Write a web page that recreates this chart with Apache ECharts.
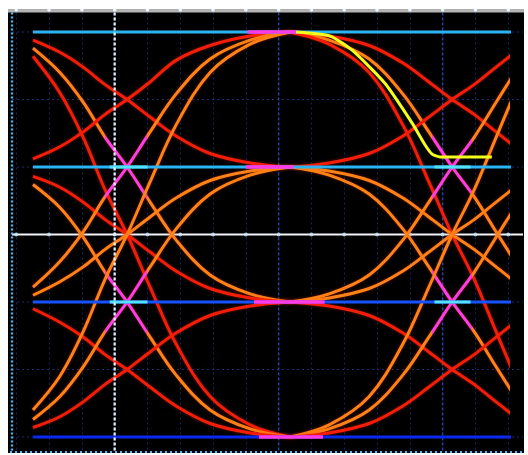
<!DOCTYPE html>
<html>
<head>
<meta charset="utf-8">
<title>PAM4 eye diagram</title>
<script src="https://cdn.jsdelivr.net/npm/echarts@6/dist/echarts.min.js"></script>
<style>
  html, body { margin: 0; padding: 0; background: #ffffff; }
  #eye { width: 528px; height: 455px; }
</style>
</head>
<body>
<div id="eye"></div>
<script>
// Horizontal unit: one screen division. Vertical unit: half of the PAM4 level spacing.
const symbolLevels = [3, 1, -1, -3];
const gridLevels = [3, 2, 1, -1, -2, -3];
const majorDivisions = [3, 8, 13];
const divisionMarks = [0, 1, 2, 3, 4, 5, 6, 7, 8, 9, 10, 11, 12, 13, 14, 15];

// Sample instants over the first half: previous symbol -> centre of the current symbol
const tFirst = [0.51, 1.33, 2.04, 2.71, 3.38, 4.08, 4.87, 5.91, 7.13, 8.35];
// Sample instants over the second half: centre of the current symbol -> next symbol
const tSecond = [8.35, 9.54, 10.76, 11.79, 12.58, 13.29, 13.96, 14.63, 15.15];

// First-half transitions (from level -> to level)
const inP3P1 = [2.88, 2.70, 2.48, 2.22, 2.00, 1.74, 1.46, 1.20, 1.06, 1.00];
const inP3M1 = [2.76, 2.40, 1.96, 1.44, 1.00, 0.48, -0.08, -0.60, -0.88, -1.00];
const inP3M3 = [2.64, 2.10, 1.44, 0.66, 0.00, -0.78, -1.62, -2.40, -2.82, -3.00];
const inP1P3 = [1.12, 1.30, 1.52, 1.78, 2.00, 2.26, 2.58, 2.80, 2.94, 3.00];
const inP1M1 = [0.86, 0.70, 0.48, 0.22, 0.00, -0.26, -0.54, -0.80, -0.94, -1.00];
const inP1M3 = [0.74, 0.40, -0.04, -0.56, -1.00, -1.52, -2.08, -2.60, -2.88, -3.00];
const inM1P1 = [-0.90, -0.70, -0.48, -0.22, 0.00, 0.26, 0.54, 0.80, 0.94, 1.00];
const inM1P3 = [-0.78, -0.40, 0.04, 0.56, 1.00, 1.52, 2.08, 2.60, 2.88, 3.00];
const inM1M3 = [-1.10, -1.30, -1.52, -1.78, -2.00, -2.26, -2.54, -2.80, -2.94, -3.00];
const inM3P3 = [-2.60, -2.10, -1.44, -0.66, 0.00, 0.78, 1.62, 2.40, 2.82, 3.00];
const inM3P1 = [-2.74, -2.40, -1.96, -1.44, -1.00, -0.48, 0.08, 0.60, 0.88, 1.00];
const inM3M1 = [-2.86, -2.70, -2.48, -2.22, -2.00, -1.74, -1.46, -1.20, -1.06, -1.00];

// Second-half transitions (from level -> to level)
const outP3P1 = [3.00, 2.94, 2.80, 2.54, 2.26, 2.00, 1.78, 1.52, 1.32];
const outP3M1 = [3.00, 2.88, 2.60, 2.08, 1.52, 1.00, 0.56, 0.04, -0.36];
const outP3M3 = [3.00, 2.82, 2.40, 1.62, 0.78, 0.00, -0.66, -1.44, -2.04];
const outP1P3 = [1.00, 1.06, 1.20, 1.46, 1.74, 2.00, 2.22, 2.48, 2.68];
const outP1M1 = [1.00, 0.94, 0.80, 0.54, 0.26, 0.00, -0.22, -0.48, -0.68];
const outP1M3 = [1.00, 0.88, 0.60, 0.08, -0.48, -1.00, -1.44, -1.96, -2.36];
const outM1P1 = [-1.00, -0.94, -0.80, -0.54, -0.26, 0.00, 0.22, 0.48, 0.68];
const outM1P3 = [-1.00, -0.88, -0.60, -0.08, 0.48, 1.00, 1.44, 1.96, 2.36];
const outM1M3 = [-1.00, -1.06, -1.20, -1.46, -1.74, -2.00, -2.22, -2.48, -2.68];
const outM3P3 = [-3.00, -2.82, -2.40, -1.62, -0.78, 0.00, 0.66, 1.44, 2.04];
const outM3P1 = [-3.00, -2.88, -2.60, -2.08, -1.52, -1.00, -0.56, -0.04, 0.36];
const outM3M1 = [-3.00, -2.94, -2.80, -2.54, -2.26, -2.00, -1.78, -1.52, -1.32];

// Latest acquisition, drawn on top
const latestT = [8.53, 9.57, 10.24, 11.24, 12.07, 12.46, 12.68, 12.92, 14.50];
const latestV = [3.00, 2.94, 2.73, 2.24, 1.65, 1.33, 1.19, 1.15, 1.15];

// Span of the steady level traces, the dense zone at each symbol centre,
// and the brighter stretches of the inner levels through the crossings
const levelSpan = [0.51, 15.15];
const denseZone = [[7.05, 8.55], [7.0, 8.45], [7.25, 9.4], [7.4, 9.35]];
const crossingZones = [[2.85, 4.0], [12.75, 13.85]];
const innerLevels = [1, -1];

const RED = '#f51c08';
const ORANGE = '#ff8216';
const MAGENTA = '#ff3ce8';
const YELLOW = '#f4ff1c';
const CYAN = '#2bb4f4';
const BRIGHT_CYAN = '#52e2ff';
const BLUE_L1 = '#1752ff';
const BLUE_L0 = '#0a2af2';

const firstHalf = [
  [inP3P1, RED, false], [inP3M1, ORANGE, true], [inP3M3, RED, false],
  [inP1P3, RED, false], [inP1M1, RED, false], [inP1M3, ORANGE, true],
  [inM1P1, ORANGE, false], [inM1P3, ORANGE, true], [inM1M3, RED, false],
  [inM3P3, ORANGE, false], [inM3P1, ORANGE, true], [inM3M1, RED, false]
];
const secondHalf = [
  [outP3P1, RED, false], [outP3M1, ORANGE, true], [outP3M3, RED, false],
  [outP1P3, RED, false], [outP1M1, ORANGE, false], [outP1M3, ORANGE, true],
  [outM1P1, ORANGE, false], [outM1P3, ORANGE, true], [outM1M3, RED, false],
  [outM3P3, ORANGE, false], [outM3P1, ORANGE, true], [outM3M1, RED, false]
];

const series = [];
const crossingTraces = [];

function addTrace(ts, vs, color, crosses) {
  const lineStyle = { width: 3, shadowBlur: 3, shadowColor: 'rgba(255,60,0,0.45)' };
  if (crosses) {
    // colour comes from the visual map (magenta through the crossing)
    crossingTraces.push(series.length);
  } else {
    lineStyle.color = color;
  }
  series.push({
    type: 'line',
    data: ts.map((t, i) => [t, vs[i]]),
    smooth: 0.35,
    symbol: 'none',
    clip: false,
    silent: true,
    z: 2,
    lineStyle: lineStyle,
    itemStyle: { color: color }
  });
}

firstHalf.forEach(([vs, c, x]) => addTrace(tFirst, vs, c, x));
secondHalf.forEach(([vs, c, x]) => addTrace(tSecond, vs, c, x));

function flatSegment(from, to, level, color, width, z) {
  series.push({
    type: 'line',
    data: [[from, level], [to, level]],
    symbol: 'none', silent: true, z: z,
    lineStyle: { width: width, color: color }, itemStyle: { color: color }
  });
}

// Steady-level traces
symbolLevels.forEach((lv, i) => {
  const c = i < 2 ? CYAN : (i === 2 ? BLUE_L1 : BLUE_L0);
  flatSegment(levelSpan[0], levelSpan[1], lv, c, 3.2, 3);
});

// Inner levels brighten where the transitions cross them
innerLevels.forEach(lv => crossingZones.forEach(zn => flatSegment(zn[0], zn[1], lv, BRIGHT_CYAN, 3.2, 3)));

// Densest hits at the symbol centre
symbolLevels.forEach((lv, i) => flatSegment(denseZone[i][0], denseZone[i][1], lv, MAGENTA, 3.6, 4));

// Latest acquisition
series.push({
  type: 'line',
  data: latestT.map((t, i) => [t, latestV[i]]),
  smooth: 0.2, symbol: 'none', silent: true, z: 5,
  lineStyle: { width: 3, color: YELLOW }, itemStyle: { color: YELLOW }
});

// Markers along the horizontal cursor
series.push({
  type: 'scatter',
  data: divisionMarks.map(t => [t, 0]),
  symbolSize: 4, silent: true, z: 1,
  itemStyle: { color: '#c8e6ff' }
});

const option = {
  backgroundColor: '#000000',
  animation: false,
  grid: { left: 16.25, right: 19.75, top: 12.5, bottom: 3.5, containLabel: false },
  xAxis: {
    type: 'value', min: 0, max: 15, interval: 1,
    axisLine: { show: false }, axisTick: { show: false }, axisLabel: { show: false },
    splitLine: { show: true, lineStyle: { color: '#15245e', width: 1, type: [2, 3] } }
  },
  yAxis: {
    type: 'value', min: -3.215, max: 3.289,
    axisLine: { show: false }, axisTick: { show: false }, axisLabel: { show: false },
    splitLine: { show: false }
  },
  visualMap: [{
    type: 'piecewise', show: false, dimension: 0,
    seriesIndex: crossingTraces,
    pieces: [
      { gte: 2.72, lte: 4.0, color: MAGENTA },
      { gte: 12.68, lte: 13.88, color: MAGENTA }
    ],
    outOfRange: { color: ORANGE }
  }],
  series: series
};

const chart = echarts.init(document.getElementById('eye'), null, { renderer: 'canvas' });
chart.setOption(option);

// Frame, graticule and cursors placed on the axis scales
const px = t => chart.convertToPixel({ xAxisIndex: 0 }, t);
const py = v => chart.convertToPixel({ yAxisIndex: 0 }, v);
const frameLeft = 8, frameRight = 524, frameTop = 9.5, frameBottom = 453;
const g = [];

gridLevels.forEach(v => g.push({
  type: 'line', silent: true, z: 1,
  shape: { x1: frameLeft + 4, y1: py(v), x2: frameRight - 1, y2: py(v) },
  style: { stroke: '#1b2c70', lineWidth: 1.2, lineDash: [2, 3] }
}));
majorDivisions.forEach(t => g.push({
  type: 'line', silent: true, z: 1,
  shape: { x1: px(t), y1: frameTop + 3, x2: px(t), y2: frameBottom - 2 },
  style: { stroke: '#2443a8', lineWidth: 1.5, lineDash: [3, 2] }
}));
// horizontal cursor
g.push({
  type: 'line', silent: true, z: 1,
  shape: { x1: frameLeft + 4, y1: py(0), x2: frameRight - 1, y2: py(0) },
  style: { stroke: '#f2f4f8', lineWidth: 2.2 }
});
// vertical cursor
g.push({
  type: 'line', silent: true, z: 6,
  shape: { x1: px(3), y1: frameTop + 3, x2: px(3), y2: frameBottom - 1 },
  style: { stroke: '#e6f4ff', lineWidth: 2.2, lineDash: [3, 2] }
});
// left and bottom frame edges
g.push({
  type: 'line', silent: true, z: 7,
  shape: { x1: 12, y1: frameTop + 3, x2: 12, y2: frameBottom - 1 },
  style: { stroke: '#55b4f0', lineWidth: 2.4, lineDash: [2, 2] }
});
g.push({
  type: 'line', silent: true, z: 7,
  shape: { x1: frameLeft + 2, y1: frameBottom - 1, x2: frameRight, y2: frameBottom - 1 },
  style: { stroke: '#55b4f0', lineWidth: 2, lineDash: [2, 3] }
});
// top frame edge with division ticks
g.push({
  type: 'rect', silent: true, z: 7,
  shape: { x: frameLeft, y: frameTop, width: frameRight - frameLeft + 4, height: 3 },
  style: { fill: '#b4b4b4' }
});
divisionMarks.forEach(t => g.push({
  type: 'circle', silent: true, z: 8,
  shape: { cx: px(t), cy: frameTop + 0.5, r: 1.8 },
  style: { fill: '#dff2ff' }
}));
// white surround
g.push({ type: 'rect', silent: true, z: 9, shape: { x: 0, y: 0, width: 528, height: frameTop }, style: { fill: '#ffffff' } });
g.push({ type: 'rect', silent: true, z: 9, shape: { x: 0, y: 0, width: frameLeft, height: 455 }, style: { fill: '#ffffff' } });
g.push({ type: 'rect', silent: true, z: 9, shape: { x: frameRight, y: 0, width: 528 - frameRight, height: 455 }, style: { fill: '#ffffff' } });
g.push({ type: 'rect', silent: true, z: 9, shape: { x: 0, y: frameBottom, width: 528, height: 455 - frameBottom }, style: { fill: '#ffffff' } });

chart.setOption({ graphic: { elements: g } });
</script>
</body>
</html>
